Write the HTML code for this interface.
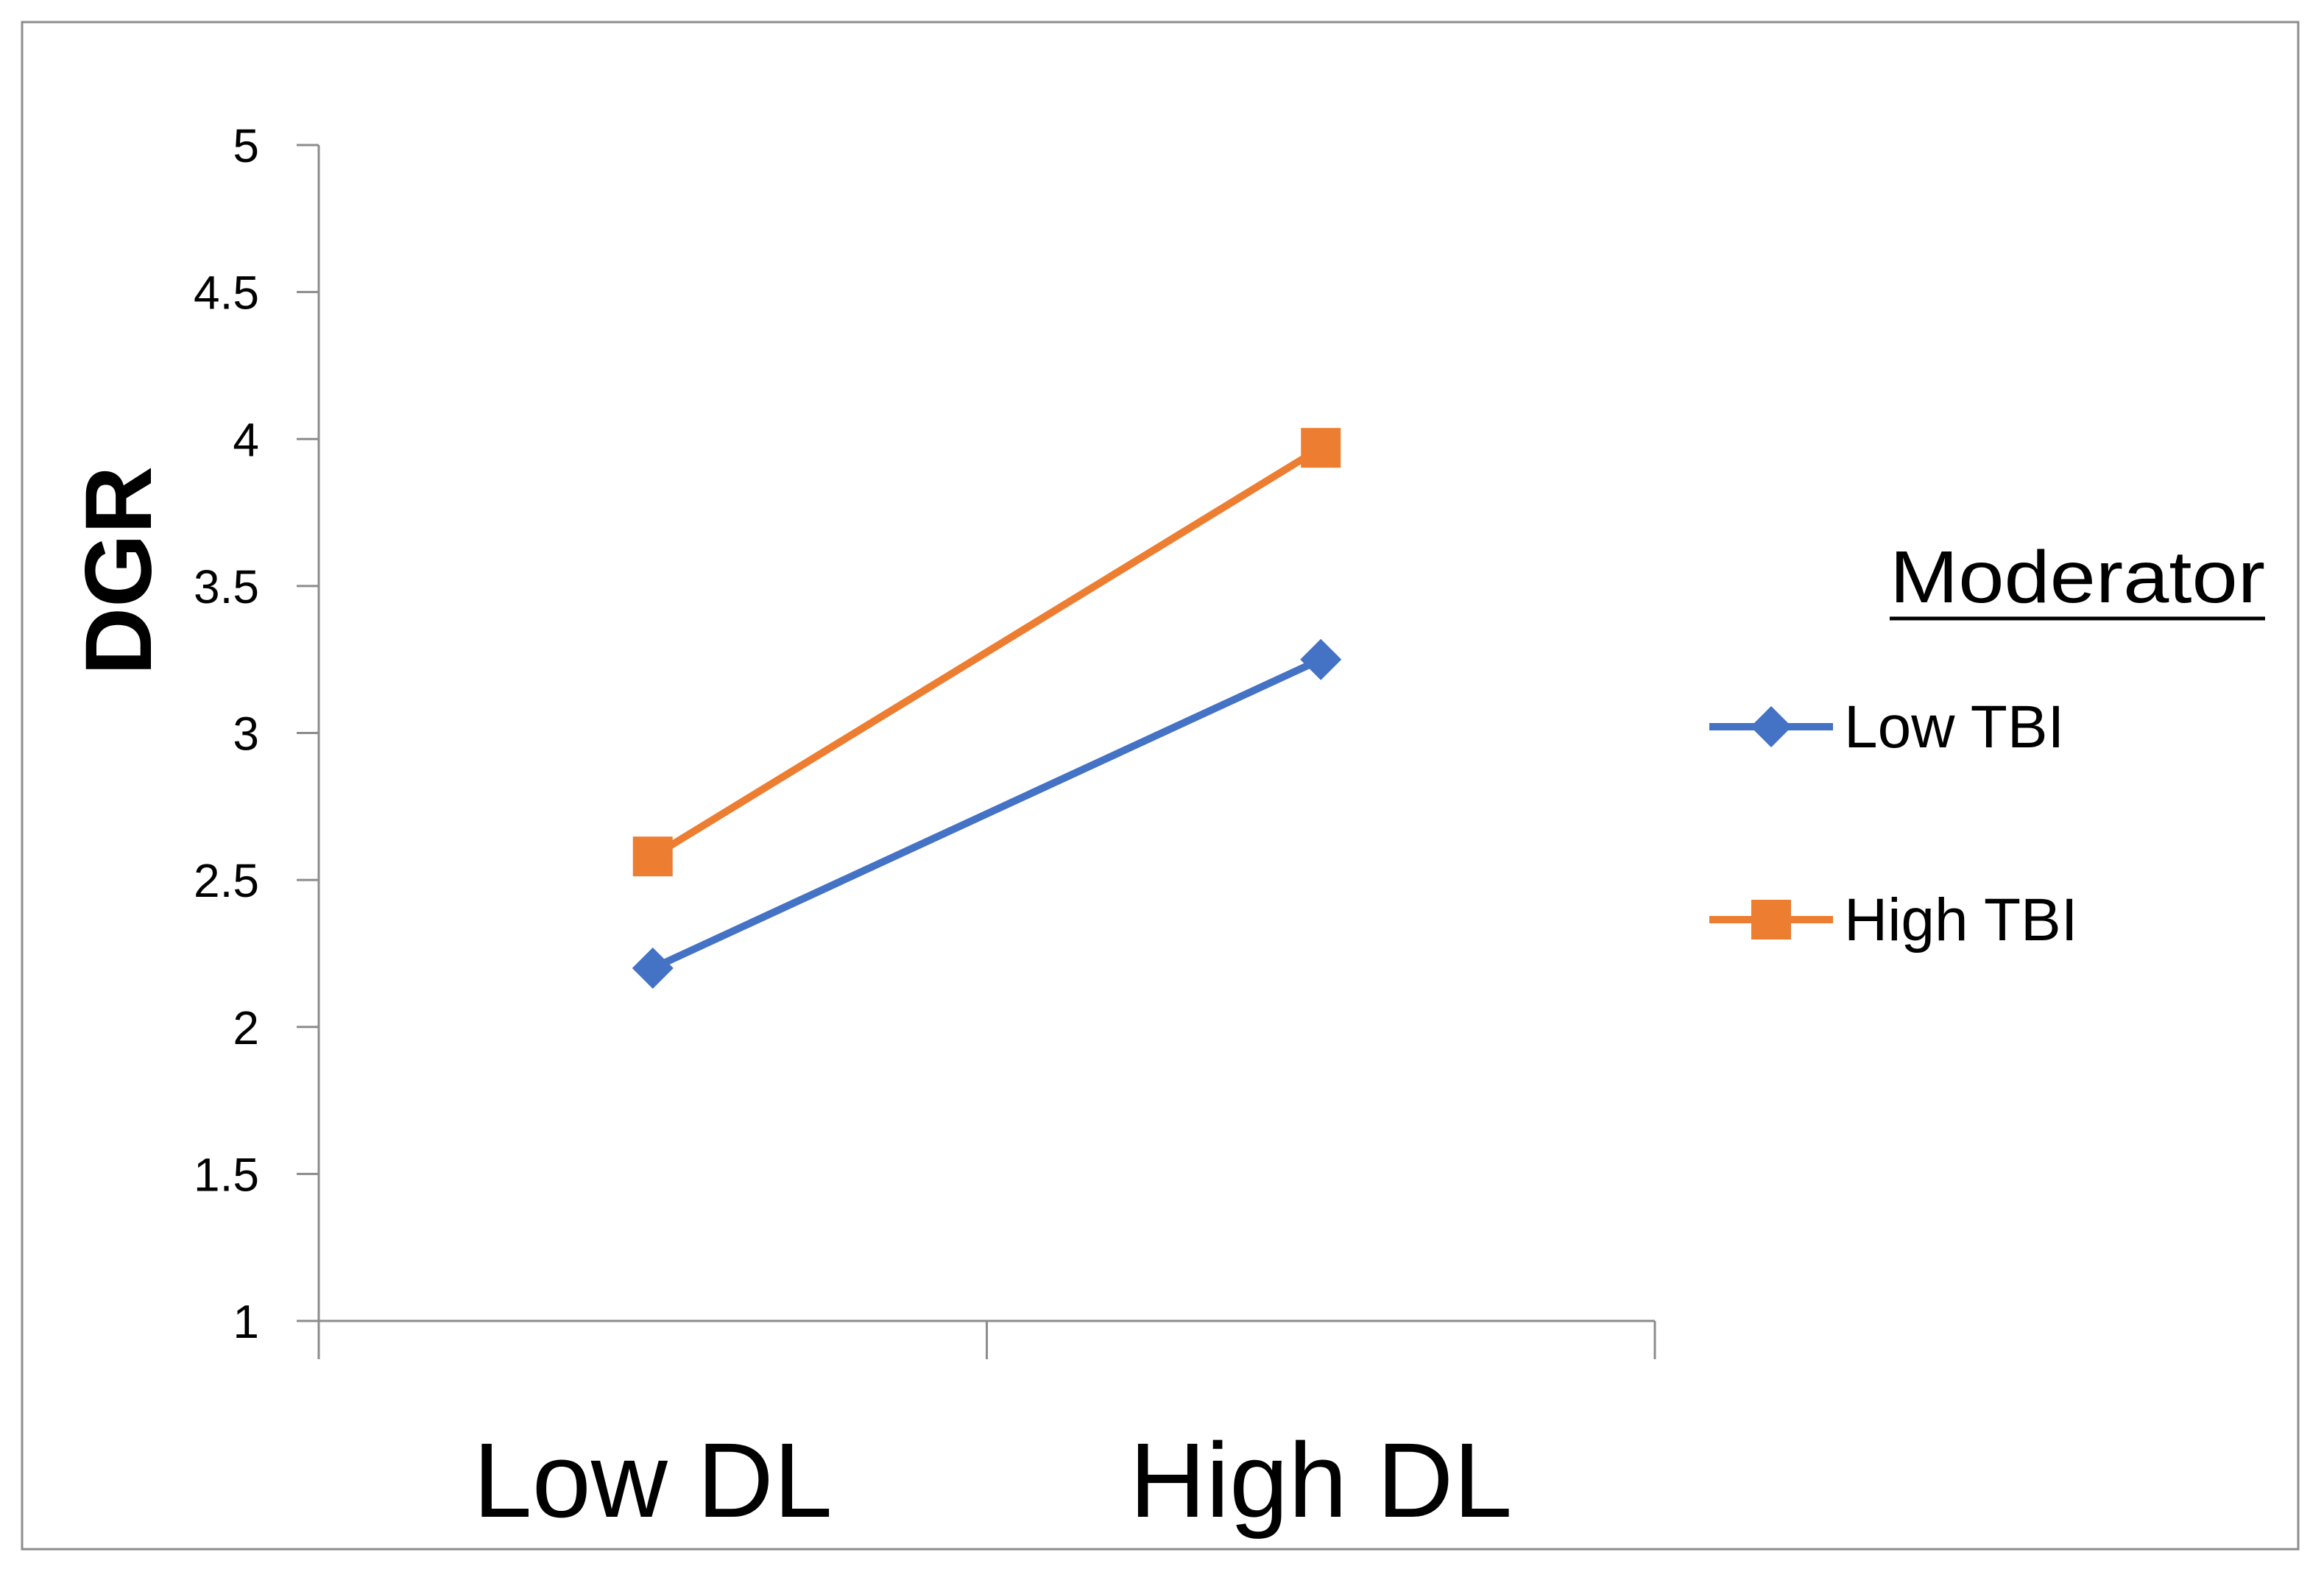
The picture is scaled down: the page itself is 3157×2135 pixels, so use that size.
<!DOCTYPE html>
<html><head><meta charset="utf-8"><style>
html,body{margin:0;padding:0;background:#fff;}
svg{display:block;font-family:"Liberation Sans",sans-serif;}
</style></head><body>
<svg id="chart" width="3157" height="2135" viewBox="0 0 3157 2135" xmlns="http://www.w3.org/2000/svg">
<rect x="30" y="30" width="3092" height="2074" fill="#fff" stroke="#8c8c8c" stroke-width="3"/>
<g id="axes"></g>
<g id="series"></g>
<text transform="translate(205,775) rotate(-90)" text-anchor="middle" font-size="128" font-weight="bold">DGR</text>
<g>
<text x="2567" y="818" font-size="100" textLength="510" lengthAdjust="spacingAndGlyphs">Moderator</text>
<line x1="2567" y1="840" x2="3077" y2="840" stroke="#000" stroke-width="5"/>
<g>
<line x1="2322" y1="987" x2="2490" y2="987" stroke="#4472C4" stroke-width="10"/>
<polygon points="2406,959 2434,987 2406,1015 2378,987" fill="#4472C4"/>
<text x="2505" y="1015" font-size="82">Low TBI</text></g>
<g>
<line x1="2322" y1="1249" x2="2490" y2="1249" stroke="#ED7D31" stroke-width="10"/>
<rect x="2379" y="1222" width="54" height="54" fill="#ED7D31"/>
<text x="2505" y="1277" font-size="82">High TBI</text></g>
</g>
</svg>
<script>
const categories = ["Low DL", "High DL"];
const lowTBI = [2.2, 3.25];
const highTBI = [2.58, 3.97];
const yTicks = [1, 1.5, 2, 2.5, 3, 3.5, 4, 4.5, 5];
const NS = "http://www.w3.org/2000/svg";
const X0 = 433, X1 = 2248, Y0 = 1794, Y1 = 197, YMIN = 1, YMAX = 5;
function yScale(v){ return Y0 - (v - YMIN) / (YMAX - YMIN) * (Y0 - Y1); }
function xScale(i){ return X0 + (i + 0.5) * (X1 - X0) / categories.length; }
function mk(tag, attrs, parent){ const e = document.createElementNS(NS, tag); for (const k in attrs) e.setAttribute(k, attrs[k]); parent.appendChild(e); return e; }
const axes = document.getElementById("axes");
let yl = mk("line", {x1:X0, y1:Y1, x2:X0, y2:Y0, stroke:"#8c8c8c", "stroke-width":3}, axes);


let xl = mk("line", {x1:X0, y1:Y0, x2:X1, y2:Y0, stroke:"#8c8c8c", "stroke-width":3}, axes);


yTicks.forEach(t => {
  const y = yScale(t);
  mk("line", {x1:X0-30, y1:y, x2:X0, y2:y, stroke:"#8c8c8c", "stroke-width":3}, axes);
  const tx = mk("text", {x:352, y:y+23, "text-anchor":"end", "font-size":64}, axes);
  tx.textContent = t;
  
  
});
for (let i = 0; i <= categories.length; i++) {
  const x = X0 + i * (X1 - X0) / categories.length;
  mk("line", {x1:x, y1:Y0, x2:x, y2:Y0+52, stroke:"#8c8c8c", "stroke-width":3}, axes);
}
categories.forEach((c, i) => {
  const tx = mk("text", {x:xScale(i), y:2060, "text-anchor":"middle", "font-size":144}, axes);
  tx.textContent = c;
  
  
});
const series = document.getElementById("series");
function drawSeries(vals, color, shape, name){
  const g = mk("g", {}, series);
  
  
  const pts = vals.map((v,i) => xScale(i) + "," + yScale(v)).join(" ");
  mk("polyline", {points:pts, fill:"none", stroke:color, "stroke-width":10}, g);
  vals.forEach((v,i) => {
    const x = xScale(i), y = yScale(v);
    let m;
    if (shape === "square") m = mk("rect", {x:x-27, y:y-27, width:54, height:54, fill:color}, g);
    else m = mk("polygon", {points:`${x},${y-28} ${x+28},${y} ${x},${y+28} ${x-28},${y}`, fill:color}, g);
    
    
  });
}
drawSeries(lowTBI, "#4472C4", "diamond", "low-tbi-series");
drawSeries(highTBI, "#ED7D31", "square", "high-tbi-series");
</script>
</body></html>
